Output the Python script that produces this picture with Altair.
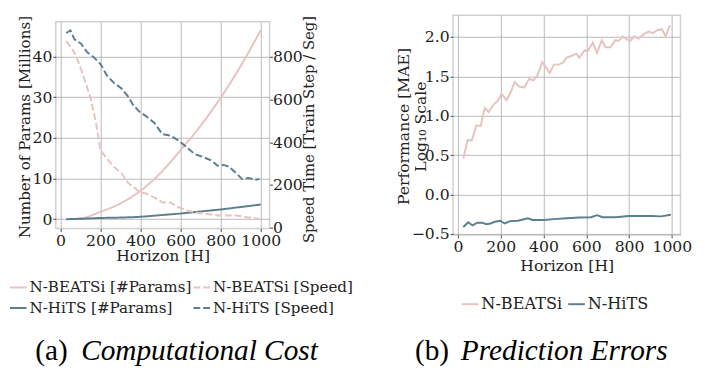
import altair as alt
import pandas as pd

# ---------------- data ----------------
params_h = [29, 100, 200, 300, 400, 500, 600, 700, 800, 900, 1000]
nbeats_params = [0.0, 0.2, 1.8, 3.9, 7.0, 11.4, 17.0, 23.0, 29.9, 37.7, 46.5]
nhits_params = [0.0, 0.1, 0.3, 0.4, 0.6, 1.0, 1.4, 1.9, 2.4, 3.0, 3.6]

nhits_speed_h = [29, 50, 70, 102, 135, 167, 200, 232, 265, 305, 338, 362, 395, 427, 468,
                 509, 549, 590, 630, 671, 712, 752, 785, 816, 841, 874, 907, 939, 972, 993]
nhits_speed = [910, 922, 880, 861, 819, 796, 765, 712, 679, 651, 613, 575, 542, 522, 491,
               438, 431, 408, 377, 344, 331, 316, 290, 294, 286, 259, 228, 233, 225, 228]

nbeats_speed_h = [29, 54, 78, 102, 127, 151, 176, 200, 232, 265, 305, 338, 370, 395, 427,
                  468, 509, 549, 590, 638, 687, 736, 785, 833, 882, 931, 993]
nbeats_speed = [872, 842, 804, 743, 674, 605, 499, 362, 324, 286, 256, 210, 187, 167, 161,
                142, 119, 119, 96, 80, 70, 65, 58, 58, 58, 50, 42]

nbeats_mae_h = [25, 45, 65, 86, 106, 125, 143, 166, 189, 204, 227, 245, 265, 288, 310, 333,
                353, 371, 394, 410, 429, 448, 471, 493, 508, 530, 553, 568, 592, 607, 630,
                650, 672, 690, 713, 736, 751, 771, 789, 804, 824, 845, 870, 891, 911, 933,
                953, 971, 991]
nbeats_mae = [0.46, 0.69, 0.69, 0.88, 0.87, 1.10, 1.05, 1.14, 1.20, 1.28, 1.20, 1.29, 1.43,
              1.37, 1.36, 1.47, 1.45, 1.51, 1.68, 1.62, 1.54, 1.65, 1.65, 1.68, 1.74, 1.76,
              1.79, 1.74, 1.83, 1.82, 1.93, 1.80, 1.96, 1.87, 1.87, 1.96, 1.95, 2.01, 1.97,
              1.95, 2.01, 1.98, 2.04, 2.07, 2.05, 2.09, 2.10, 2.01, 2.15]

nhits_mae_h = [25, 48, 68, 91, 114, 132, 152, 172, 198, 218, 243, 281, 327, 349, 402, 448,
               509, 569, 622, 650, 676, 737, 798, 843, 904, 950, 995]
nhits_mae = [-0.41, -0.35, -0.39, -0.355, -0.355, -0.375, -0.365, -0.343, -0.33, -0.365,
             -0.335, -0.33, -0.30, -0.32, -0.32, -0.31, -0.30, -0.29, -0.285, -0.26, -0.285,
             -0.285, -0.27, -0.27, -0.27, -0.275, -0.255]

left_series = ["N-BEATSi [#Params]", "N-BEATSi [Speed]", "N-HiTS [#Params]", "N-HiTS [Speed]"]
right_series = ["N-BEATSi", "N-HiTS"]
x_ticks = [0, 200, 400, 600, 800, 1000]
params_ticks = [0, 10, 20, 30, 40]
speed_ticks = [0, 200, 400, 600, 800]
mae_ticks = [-0.5, 0.0, 0.5, 1.0, 1.5, 2.0]

PINK = "#e6c3bf"
TEAL = "#5b7f8e"
FONT = "DejaVu Serif"
CAP_FONT = "Liberation Serif"
X_TITLE_FS = 16

# ---------------- tables ----------------
def frame(hs, vs, name, kind):
    return pd.DataFrame({"h": hs, "value": vs, "series": name, "kind": kind})

left_df = pd.concat([
    frame(params_h, nbeats_params, left_series[0], "params"),
    frame(nbeats_speed_h, nbeats_speed, left_series[1], "speed"),
    frame(params_h, nhits_params, left_series[2], "params"),
    frame(nhits_speed_h, nhits_speed, left_series[3], "speed"),
], ignore_index=True)

right_df = pd.concat([
    frame(nbeats_mae_h, nbeats_mae, right_series[0], "mae"),
    frame(nhits_mae_h, nhits_mae, right_series[1], "mae"),
], ignore_index=True)

LW, LH = 219, 212
RW, RH = 233, 225

x_left = alt.X("h:Q", scale=alt.Scale(domain=[-23, 1044], nice=False, zero=False),
               axis=alt.Axis(values=x_ticks, format="d", title="Horizon [H]",
                             titleFontSize=X_TITLE_FS,
                             titleX=LW / 2, titleY=28, titleBaseline="middle"))

color_left = alt.Color("series:N",
                       scale=alt.Scale(domain=left_series, range=[PINK, PINK, TEAL, TEAL]),
                       legend=alt.Legend(orient="none", legendX=-48, legendY=263,
                                         direction="horizontal", columns=2,
                                         title=None, symbolType="stroke", symbolSize=289,
                                         symbolStrokeWidth=2, columnPadding=-8, rowPadding=3,
                                         labelOffset=2, labelFont=FONT, labelFontSize=15.5,
                                         labelColor="#222", labelLimit=400))
dash_left = alt.StrokeDash("series:N",
                           scale=alt.Scale(domain=left_series,
                                           range=[[1, 0], [7, 3], [1, 0], [7, 3]]))

params_layer = alt.Chart(left_df).transform_filter(
    alt.datum.kind == "params"
).mark_line(strokeWidth=2, interpolate="monotone").encode(
    x=x_left,
    y=alt.Y("value:Q", scale=alt.Scale(domain=[-2.3, 48.6], nice=False, zero=False),
            axis=alt.Axis(orient="left", values=params_ticks, title="Number of Params [Millions]",
                          titleFontSize=15.5,
                          titleX=-32, titleY=107.5, titleBaseline="middle", titleAngle=270)),
    color=color_left,
    strokeDash=dash_left,
)

speed_layer = alt.Chart(left_df).transform_filter(
    alt.datum.kind == "speed"
).mark_line(strokeWidth=2).encode(
    x=x_left,
    y=alt.Y("value:Q", scale=alt.Scale(domain=[-3, 963], nice=False, zero=False),
            axis=alt.Axis(orient="right", values=speed_ticks, grid=False, labelPadding=0,
                          title="Speed Time [Train Step / Seg]", titleFontSize=15.2,
                          titleX=40, titleY=110,
                          titleBaseline="middle", titleAngle=270)),
    color=color_left,
    strokeDash=dash_left,
)

def caption(txt, x, y, italic):
    return alt.Chart(pd.DataFrame({"t": [txt]})).mark_text(
        align="left", baseline="alphabetic", font=CAP_FONT, fontSize=30,
        fontStyle="italic" if italic else "normal", color="#000"
    ).encode(text="t:N", x=alt.value(x), y=alt.value(y))

left = alt.layer(
    params_layer, speed_layer,
    caption("(a)", -21, 347, False),
    caption("Computational Cost", 26, 347, True),
).resolve_scale(y="independent").properties(width=LW, height=LH)

x_right = alt.X("h:Q", scale=alt.Scale(domain=[-23, 1040], nice=False, zero=False),
                axis=alt.Axis(values=x_ticks, format="d", title="Horizon [H]",
                              titleFontSize=X_TITLE_FS,
                              titleX=RW / 2, titleY=31, titleBaseline="middle"))

mae_layer = alt.Chart(right_df).mark_line(strokeWidth=2).encode(
    x=x_right,
    y=alt.Y("value:Q", scale=alt.Scale(domain=[-0.51, 2.276], nice=False, zero=False),
            axis=alt.Axis(values=mae_ticks, format=".1f",
                          title=["Performance [MAE]", "Log₁₀ Scale"],
                          titleFontSize=16,
                          titleX=-50.5, titleY=113.5, titleBaseline="middle", titleAngle=270,
                          titleLineHeight=17)),
    color=alt.Color("series:N", scale=alt.Scale(domain=right_series, range=[PINK, TEAL]),
                    legend=alt.Legend(orient="none", legendX=8, legendY=286.5,
                                      direction="horizontal",
                                      columns=2, title=None, symbolType="stroke", symbolSize=289,
                                      symbolStrokeWidth=2, columnPadding=2, labelOffset=2,
                                      labelFont=FONT, labelFontSize=16.5, labelColor="#222")),
)

right = alt.layer(
    mae_layer,
    caption("(b)", -39, 353.5, False),
    caption("Prediction Errors", 8, 353.5, True),
).properties(width=RW, height=RH)

chart = alt.hconcat(left, right, spacing=188, bounds="flush", center=True).resolve_scale(
    color="independent", strokeDash="independent"
).resolve_legend(
    color="independent", strokeDash="independent"
).properties(
    padding={"left": 0, "top": 2, "right": 5, "bottom": 0}
).configure_view(
    stroke="#d0d0d0", strokeWidth=1.5
).configure_axis(
    labelFont=FONT, labelFontSize=16, labelColor="#222", labelPadding=1,
    titleFont=FONT, titleFontWeight="normal", titleColor="#222",
    tickColor="#444", tickSize=3, domain=False,
    gridColor="#b0b0b0", gridWidth=0.9,
)

chart.save("out.html", embed_options={"renderer": "svg", "actions": False})
